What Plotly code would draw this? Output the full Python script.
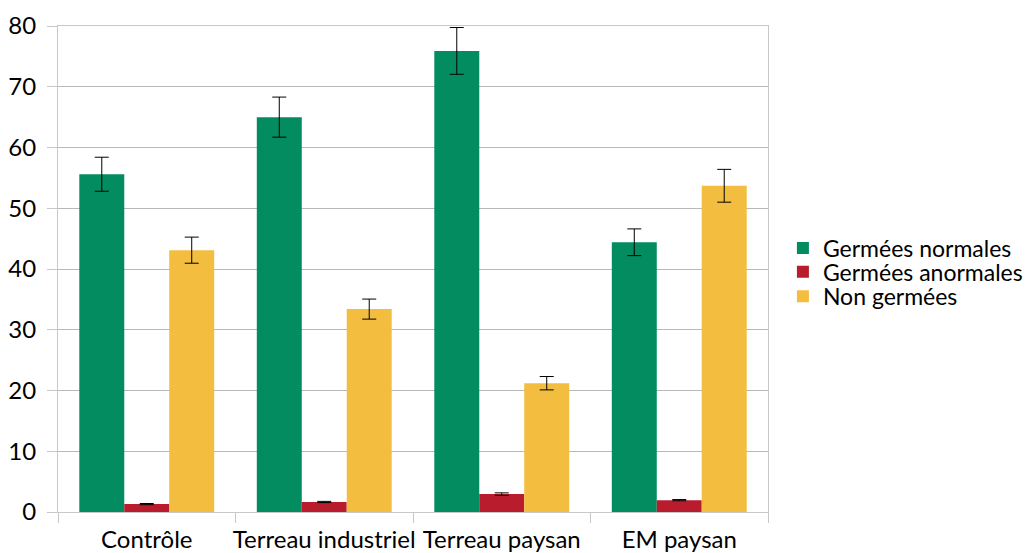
import plotly.graph_objects as go

# Germination outcome (%) per growing medium, with standard errors
categories = ["Contrôle", "Terreau industriel", "Terreau paysan", "EM paysan"]
germees_normales = [55.6, 65.0, 75.9, 44.4]
germees_normales_err = [2.8, 3.3, 3.85, 2.2]
germees_anormales = [1.3, 1.65, 2.95, 1.95]
germees_anormales_err = [0.1, 0.1, 0.2, 0.1]
non_germees = [43.1, 33.4, 21.2, 53.7]
non_germees_err = [2.15, 1.65, 1.1, 2.7]

series = [
    ("Germées normales", germees_normales, germees_normales_err, "#038C60"),
    ("Germées anormales", germees_anormales, germees_anormales_err, "#B81C2D"),
    ("Non germées", non_germees, non_germees_err, "#F3BD40"),
]

FONT = "Lato"
FS = 24
LEG_FS = 23
GRID = "#b8b8b8"
AXIS = "#c8c8c8"

# one legend per series so the entries can sit on a tight 24 px pitch
legend_ids = ["legend", "legend2", "legend3"]
legend_y = [0.543, 0.494, 0.444]

fig = go.Figure()
for (name, vals, errs, color), lid in zip(series, legend_ids):
    fig.add_trace(go.Bar(
        name=name,
        x=categories,
        y=vals,
        legend=lid,
        marker=dict(color=color, line=dict(width=0)),
        error_y=dict(type="data", array=errs, visible=True,
                     color="#000000", thickness=1, width=7),
    ))

legend_style = dict(
    x=1.021, xanchor="left", yanchor="middle",
    font=dict(family=FONT, size=LEG_FS, color="#000000"),
    itemwidth=30, bgcolor="rgba(0,0,0,0)",
)

fig.update_layout(
    width=1030,
    height=553,
    barmode="group",
    bargap=0.24,
    bargroupgap=0,
    plot_bgcolor="white",
    paper_bgcolor="white",
    margin=dict(l=58, r=262, t=26, b=41, autoexpand=False),
    font=dict(family=FONT, size=FS, color="#000000"),
    showlegend=True,
    legend=dict(y=legend_y[0], **legend_style),
    legend2=dict(y=legend_y[1], **legend_style),
    legend3=dict(y=legend_y[2], **legend_style),
)

fig.update_yaxes(
    range=[0, 80],
    tickvals=[0, 10, 20, 30, 40, 50, 60, 70, 80],
    showgrid=True, gridcolor=GRID, gridwidth=1,
    showline=True, linecolor=AXIS, linewidth=1, mirror=True,
    ticks="outside", ticklen=10, tickcolor=AXIS,
    ticklabelstandoff=6,
    zeroline=False, automargin=False,
    tickfont=dict(family=FONT, size=FS),
)

fig.update_xaxes(
    showline=True, linecolor=AXIS, linewidth=1, mirror=True,
    ticks="outside", ticklen=10, tickcolor=AXIS,
    tickson="boundaries",
    tickangle=0,
    ticklabelstandoff=6,
    automargin=False,
    tickfont=dict(family=FONT, size=FS),
)

fig.write_html("out.html")
